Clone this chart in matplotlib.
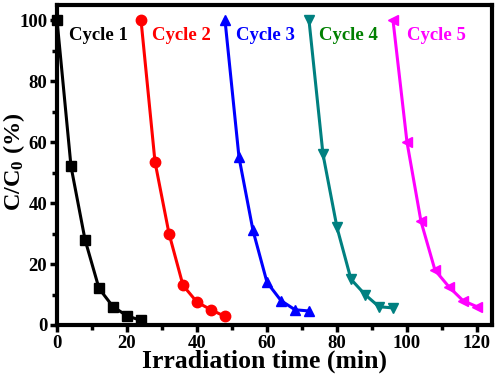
import matplotlib
matplotlib.use("Agg")
import matplotlib.pyplot as plt
from matplotlib.ticker import MultipleLocator

plt.rcParams['font.family'] = 'Liberation Serif'
plt.rcParams['font.weight'] = 'bold'
plt.rcParams['mathtext.fontset'] = 'custom'
plt.rcParams['mathtext.rm'] = 'Liberation Serif:bold'
plt.rcParams['mathtext.it'] = 'Liberation Serif:bold'
plt.rcParams['mathtext.bf'] = 'Liberation Serif:bold'

x1 = [0, 4, 8, 12, 16, 20, 24]
y1 = [100, 52, 28, 12, 6, 3, 1.5]
x2 = [24, 28, 32, 36, 40, 44, 48]
y2 = [100, 53.5, 30, 13, 7.5, 5, 2.8]
x3 = [48, 52, 56, 60, 64, 68, 72]
y3 = [100, 55, 31, 14, 8, 5, 4.6]
x4 = [72, 76, 80, 84, 88, 92, 96]
y4 = [100, 56, 32, 15, 10, 6, 5.6]
x5 = [96, 100, 104, 108, 112, 116, 120]
y5 = [100, 60, 34, 18, 12.5, 8, 6]

labels = ["Cycle 1", "Cycle 2", "Cycle 3", "Cycle 4", "Cycle 5"]
label_x = [3.3, 27, 51.2, 75, 100]
label_y = [95, 95, 95, 95, 95]

fig = plt.figure(figsize=(4.98, 3.79), dpi=100)
ax = fig.add_axes([0.1145, 0.1425, 0.8735, 0.8445])

series = [(x1, y1, 'black', 's', 'black'),
          (x2, y2, 'red', 'o', 'red'),
          (x3, y3, 'blue', '^', 'blue'),
          (x4, y4, '#008080', 'v', '#008000'),
          (x5, y5, 'magenta', '<', 'magenta')]
for (xs, ys, c, m, tc), lab, lx, ly in zip(series, labels, label_x, label_y):
    ax.plot(xs, ys, color=c, marker=m, markersize=7.5, linewidth=2.2, clip_on=False, zorder=3)
    ax.text(lx, ly, lab, color=tc, fontsize=13.5, fontweight='bold', va='center', ha='left')

ax.set_xlim(0, 124.3)
ax.set_ylim(0, 105)
ax.xaxis.set_major_locator(MultipleLocator(20))
ax.xaxis.set_minor_locator(MultipleLocator(10))
ax.yaxis.set_major_locator(MultipleLocator(20))
ax.yaxis.set_minor_locator(MultipleLocator(10))
for s in ax.spines.values():
    s.set_linewidth(3)
ax.tick_params(which='major', direction='out', length=5, width=2.5, labelsize=13.5, pad=2)
ax.tick_params(which='minor', direction='out', length=3.5, width=2.5)
for t in ax.get_xticklabels() + ax.get_yticklabels():
    t.set_fontweight('bold')

ax.set_xlabel("Irradiation time (min)", fontsize=18.5, fontweight='bold')
ax.set_ylabel("C/C$_0$ (%)", fontsize=17.5, fontweight='bold')
ax.xaxis.set_label_coords(0.476, -0.078)
ax.yaxis.set_label_coords(-0.068, 0.51)

fig.savefig("out.png", dpi=100)
